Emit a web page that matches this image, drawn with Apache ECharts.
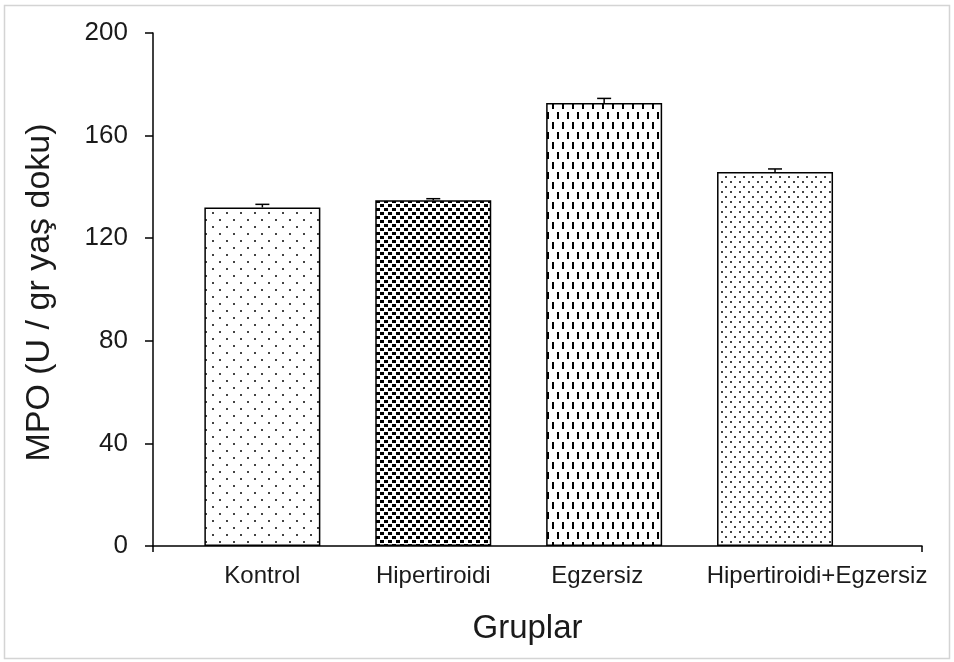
<!DOCTYPE html>
<html>
<head>
<meta charset="utf-8">
<script src="https://cdn.jsdelivr.net/npm/echarts@6/dist/echarts.min.js"></script>
<style>
html,body{margin:0;padding:0;background:#fff;}
#chart{width:954px;height:662px;}
</style>
</head>
<body>
<div id="chart"></div>
<script>
// ---- data ----
const categories = ['Kontrol', 'Hipertiroidi', 'Egzersiz', 'Hipertiroidi+Egzersiz'];
const means = [132.0, 134.8, 172.7, 145.8];
const errors = [1.2, 0.6, 1.8, 1.2];
const yMin = 0, yMax = 200, yInterval = 40;
const yTitle = 'MPO (U / gr yaş doku)';
const xTitle = 'Gruplar';

// ---- patterns ----
function makePattern(w, h, draw) {
  const c = document.createElement('canvas');
  c.width = w; c.height = h;
  const ctx = c.getContext('2d');
  ctx.fillStyle = '#fff';
  ctx.fillRect(0, 0, w, h);
  draw(ctx);
  return c;
}
const patterns = [
  makePattern(14, 14, ctx => { ctx.fillStyle = '#444'; ctx.fillRect(2, 2, 2, 2); ctx.fillRect(9, 9, 2, 2); }),
  makePattern(8, 8, ctx => { ctx.fillStyle = '#000'; ctx.fillRect(0, 0, 4, 3); ctx.fillRect(4, 4, 4, 3); }),
  makePattern(10, 20, ctx => { ctx.fillStyle = '#000'; ctx.fillRect(2, 2, 2, 7); ctx.fillRect(7, 12, 2, 7); }),
  makePattern(9, 10, ctx => { ctx.fillStyle = '#444'; ctx.fillRect(1, 1, 2, 2); ctx.fillRect(5, 6, 2, 2); })
];

const FONT = "'Liberation Sans', Arial, sans-serif";
const xMin = 0.36, xMax = 4.86;

const barData = categories.map((c, i) => ({
  value: [i + 1, means[i]],
  itemStyle: { color: { image: patterns[i], repeat: 'repeat' } }
}));
const errData = categories.map((c, i) => [i + 1, means[i], errors[i]]);

const chart = echarts.init(document.getElementById('chart'), null, { renderer: 'canvas' });
chart.setOption({
  animation: false,
  backgroundColor: '#fff',
  textStyle: { fontFamily: FONT },
  grid: { left: 153, right: 32, top: 33, bottom: 116 },
  graphic: [{
    type: 'rect', shape: { x: 4.5, y: 5.5, width: 945, height: 653 },
    style: { fill: 'none', stroke: '#d4d4d4', lineWidth: 1.5 }, silent: true
  }],
  xAxis: {
    type: 'value', min: xMin, max: xMax,
    name: xTitle, nameLocation: 'middle', nameGap: 66,
    nameTextStyle: { fontSize: 33, color: '#1a1a1a', fontFamily: FONT, padding: [0, 20, 0, 0] },
    axisLine: { show: true, lineStyle: { color: '#000', width: 1.5 } },
    axisTick: { show: true, customValues: [xMin, xMax], length: 6, inside: false, lineStyle: { color: '#000', width: 1.5 } },
    axisLabel: {
      customValues: [1, 2, 3, 4], margin: 18, fontSize: 24, color: '#1a1a1a', fontFamily: FONT,
      formatter: v => {
        const i = Math.round(v) - 1;
        if (i === 3) return '{last|' + categories[i] + '}';
        if (i === 2) return '{mid|' + categories[i] + '}';
        return categories[i];
      },
      rich: {
        last: { fontSize: 24, color: '#1a1a1a', fontFamily: FONT, padding: [0, 0, 0, 84] },
        mid: { fontSize: 24, color: '#1a1a1a', fontFamily: FONT, padding: [0, 14, 0, 0] }
      }
    },
    splitLine: { show: false }
  },
  yAxis: {
    type: 'value', min: yMin, max: yMax, interval: yInterval,
    name: yTitle, nameLocation: 'middle', nameGap: 96, nameRotate: 90,
    nameTextStyle: { fontSize: 34, color: '#1a1a1a', fontFamily: FONT, padding: [0, 6, 0, 0] },
    axisLine: { show: true, lineStyle: { color: '#000', width: 1.5 } },
    axisTick: { show: true, length: 8, inside: false, lineStyle: { color: '#000', width: 1.5 } },
    axisLabel: { margin: 25, fontSize: 26, color: '#1a1a1a', fontFamily: FONT },
    splitLine: { show: false }
  },
  series: [
    {
      type: 'bar', data: barData, barWidth: 116,
      itemStyle: { borderColor: '#000', borderWidth: 1.5 }
    },
    {
      type: 'custom', data: errData, z: 5,
      renderItem: (params, api) => {
        const x = api.value(0), v = api.value(1), e = api.value(2);
        const b = api.coord([x, v]);
        const t = api.coord([x, v + e]);
        return {
          type: 'group', children: [
            { type: 'line', shape: { x1: b[0], y1: b[1], x2: t[0], y2: t[1] }, style: { stroke: '#000', lineWidth: 1.5 } },
            { type: 'line', shape: { x1: t[0] - 7, y1: t[1], x2: t[0] + 7, y2: t[1] }, style: { stroke: '#000', lineWidth: 1.5 } }
          ]
        };
      }
    }
  ]
});
</script>
</body>
</html>
